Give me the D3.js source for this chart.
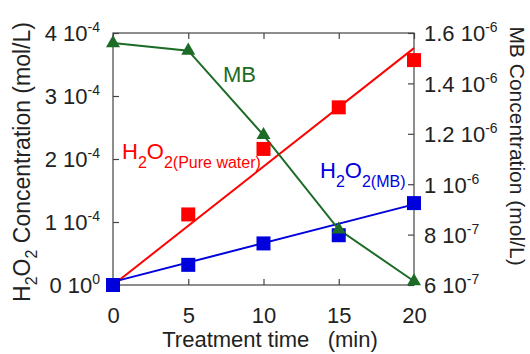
<!DOCTYPE html>
<html>
<head>
<meta charset="utf-8">
<script src="https://cdn.jsdelivr.net/npm/d3@7"></script>
<style>
  html, body { margin: 0; padding: 0; background: #fff; }
  svg { display: block; font-family: "Liberation Sans", Arial, sans-serif; }
</style>
</head>
<body>
<svg id="chart" width="530" height="354"></svg>
<script>
// ---- data ----
const times = [0, 5, 10, 15, 20];
const h2o2Pure = [0, 1.12e-4, 2.16e-4, 2.82e-4, 3.57e-4];
const h2o2MB = [0, 0.32e-4, 0.66e-4, 0.79e-4, 1.30e-4];
const mbConc = [1.56e-6, 1.53e-6, 1.195e-6, 8.2e-7, 6.15e-7];
// linear fit lines (endpoints)
const fitTimes = [0, 20];
const fitPure = [0, 3.76e-4];
const fitMB = [0.05e-4, 1.28e-4];

const xTicks = [0, 5, 10, 15, 20];
const leftTicks = [0, 1e-4, 2e-4, 3e-4, 4e-4];
const leftMant = ["0", "1", "2", "3", "4"];
const leftExp = ["0", "-4", "-4", "-4", "-4"];
const rightTicks = [6e-7, 8e-7, 1e-6, 1.2e-6, 1.4e-6, 1.6e-6];
const rightMant = ["6", "8", "1", "1.2", "1.4", "1.6"];
const rightExp = ["-7", "-7", "-6", "-6", "-6", "-6"];

// ---- layout ----
const L = 113, R = 414, T = 33, B = 285;
const svg = d3.select("#chart");
const x = d3.scaleLinear().domain([0, 20]).range([L, R]);
const yL = d3.scaleLinear().domain([0, 4e-4]).range([B, T]);
const yR = d3.scaleLinear().domain([6e-7, 1.6e-6]).range([B, T]);

const RED = "#ff0000", BLUE = "#0000dd", GREEN = "#1c6b26", AX = "#444";
const FS = 22, SUP = 14;

// frame
svg.append("rect").attr("x", L).attr("y", T).attr("width", R - L).attr("height", B - T)
  .attr("fill", "none").attr("stroke", AX).attr("stroke-width", 1.2);

function styleAxis(g) {
  g.select(".domain").remove();
  g.selectAll("line").attr("stroke", AX).attr("stroke-width", 1.2);
  g.selectAll("text").attr("font-size", FS).attr("fill", "#222").attr("font-family", "Liberation Sans, Arial, sans-serif");
}

// bottom axis
const gx = svg.append("g").attr("transform", `translate(0,${B})`)
  .call(d3.axisBottom(x).tickValues(xTicks).tickSizeInner(-6).tickPadding(22).tickFormat(d3.format("d")));
styleAxis(gx);
// top ticks
const gxt = svg.append("g").attr("transform", `translate(0,${T})`)
  .call(d3.axisTop(x).tickValues(xTicks).tickSizeInner(-6).tickFormat(""));
styleAxis(gxt);

// left axis
const gl = svg.append("g").attr("transform", `translate(${L},0)`)
  .call(d3.axisLeft(yL).tickValues(leftTicks).tickSizeInner(-6).tickPadding(13).tickFormat(""));
styleAxis(gl);
gl.selectAll(".tick text").each(function(d, i) {
  const t = d3.select(this);
  t.text(null).attr("dy", "0.36em");
  t.append("tspan").text(leftMant[i] + " 10");
  t.append("tspan").attr("dy", -9).attr("font-size", SUP).text(leftExp[i]);
});

// right axis
const gr = svg.append("g").attr("transform", `translate(${R},0)`)
  .call(d3.axisRight(yR).tickValues(rightTicks).tickSizeInner(-6).tickPadding(10).tickFormat(""));
styleAxis(gr);
gr.selectAll(".tick text").each(function(d, i) {
  const t = d3.select(this);
  t.text(null).attr("dy", "0.36em");
  t.append("tspan").text(rightMant[i] + " 10");
  t.append("tspan").attr("dy", -9).attr("font-size", SUP).text(rightExp[i]);
});

// axis titles
svg.append("text").attr("x", 270).attr("y", 347).attr("text-anchor", "middle")
  .attr("font-size", FS).attr("fill", "#222").attr("xml:space", "preserve")
  .text("Treatment time   (min)");

const lt = svg.append("text").attr("transform", "translate(30,162) rotate(-90)")
  .attr("text-anchor", "middle").attr("font-size", 23).attr("fill", "#222");
lt.append("tspan").text("H");
lt.append("tspan").attr("dy", 7).attr("font-size", 16).text("2");
lt.append("tspan").attr("dy", -7).text("O");
lt.append("tspan").attr("dy", 7).attr("font-size", 16).text("2");
lt.append("tspan").attr("dy", -7).text(" Concentration (mol/L)");

svg.append("text").attr("transform", "translate(510,146) rotate(90)")
  .attr("text-anchor", "middle").attr("font-size", 21).attr("fill", "#222")
  .text("MB Concentration (mol/L)");

// ---- series ----
const fitPureData = fitTimes.map((t, i) => [t, fitPure[i]]);
const fitMBData = fitTimes.map((t, i) => [t, fitMB[i]]);
const mbData = times.map((t, i) => [t, mbConc[i]]);

svg.append("path").datum(fitPureData)
  .attr("d", d3.line().x(d => x(d[0])).y(d => yL(d[1])))
  .attr("fill", "none").attr("stroke", RED).attr("stroke-width", 2);
svg.append("path").datum(fitMBData)
  .attr("d", d3.line().x(d => x(d[0])).y(d => yL(d[1])))
  .attr("fill", "none").attr("stroke", BLUE).attr("stroke-width", 2);
svg.append("path").datum(mbData)
  .attr("d", d3.line().x(d => x(d[0])).y(d => yR(d[1])))
  .attr("fill", "none").attr("stroke", GREEN).attr("stroke-width", 2);

const S = 14;
svg.append("g").selectAll("rect").data(times.map((t, i) => [t, h2o2Pure[i]])).join("rect")
  .attr("x", d => x(d[0]) - S / 2).attr("y", d => yL(d[1]) - S / 2)
  .attr("width", S).attr("height", S).attr("fill", RED);
svg.append("g").selectAll("rect").data(times.map((t, i) => [t, h2o2MB[i]])).join("rect")
  .attr("x", d => x(d[0]) - S / 2).attr("y", d => yL(d[1]) - S / 2)
  .attr("width", S).attr("height", S).attr("fill", BLUE);
const tri = d3.symbol().type(d3.symbolTriangle).size(85);
svg.append("g").selectAll("path").data(mbData).join("path")
  .attr("transform", d => `translate(${x(d[0])},${yR(d[1])})`)
  .attr("d", tri).attr("fill", GREEN);

// ---- annotations ----
svg.append("text").attr("x", 223).attr("y", 82).attr("font-size", FS).attr("fill", GREEN).text("MB");

const ap = svg.append("text").attr("x", 122).attr("y", 159).attr("font-size", 22).attr("fill", RED);
ap.append("tspan").text("H");
ap.append("tspan").attr("dy", 9).attr("font-size", 16).text("2");
ap.append("tspan").attr("dy", -9).text("O");
ap.append("tspan").attr("dy", 9).attr("font-size", 16).text("2(Pure water)");

const am = svg.append("text").attr("x", 320).attr("y", 178).attr("font-size", 22).attr("fill", BLUE);
am.append("tspan").text("H");
am.append("tspan").attr("dy", 9).attr("font-size", 16).text("2");
am.append("tspan").attr("dy", -9).text("O");
am.append("tspan").attr("dy", 9).attr("font-size", 16).text("2(MB)");
</script>
</body>
</html>
